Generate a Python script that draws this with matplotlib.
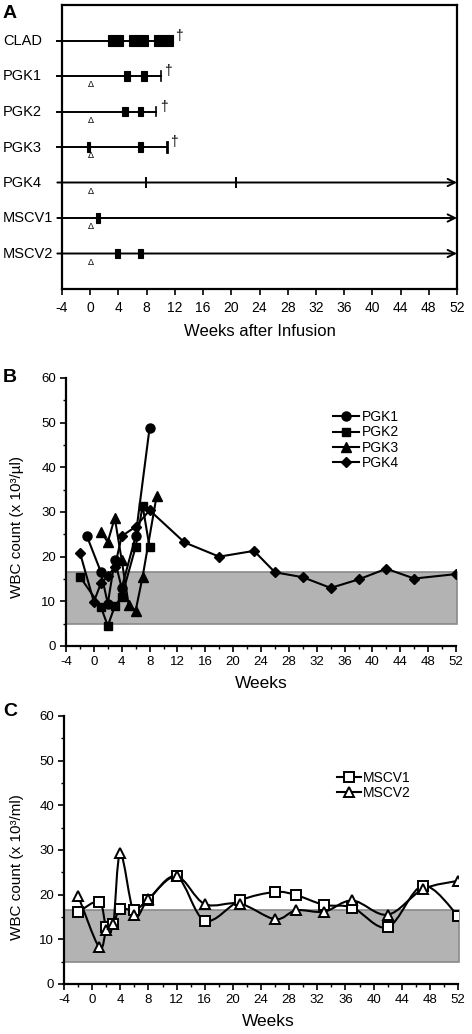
import matplotlib
matplotlib.use("Agg")
import matplotlib.pyplot as plt
import matplotlib.ticker as mticker
from matplotlib.patches import Rectangle, PathPatch
from matplotlib.path import Path

plt.rcParams.update({
    "font.family": ["Liberation Sans", "DejaVu Sans"],
    "axes.unicode_minus": False,
})

# -- Panel A: treatment timelines --
ROWS = ["CLAD", "PGK1", "PGK2", "PGK3", "PGK4", "MSCV1", "MSCV2"]
ROW_START = -4.66
ROW_END = [11.7, 10.03, 9.37, 10.84, 52, 52, 52]
ROW_ARROW = [False, False, False, False, True, True, True]
ROW_DAGGER = [12.6, 11.07, 10.46, 11.9, None, None, None]
ROW_TRIANGLE = [None, 0.07, 0.07, 0.07, 0.07, 0.07, 0.07]
ROW_BOXES = [
    [(2.47, 4.69), (5.45, 8.23), (9.1, 11.7)],
    [(4.79, 5.64), (7.2, 8.1)],
    [(4.5, 5.36), (6.73, 7.53)],
    [(-0.41, 0.0), (6.73, 7.53)],
    [],
    [(0.77, 1.39)],
    [(3.47, 4.27), (6.82, 7.53)],
]
ROW_TICKS = [[], [], [], [], [7.86, 20.6], [], []]

# -- Panel B: PGK WBC counts --
PGK1_W = [-1, 1, 2, 3, 4, 6, 8]
PGK1_V = [24.6, 16.6, 9.5, 19.2, 13.0, 24.6, 48.8]
PGK2_W = [-2, 1, 2, 3, 4, 6, 7, 8]
PGK2_V = [15.5, 8.8, 4.5, 8.9, 11.0, 22.2, 31.4, 22.1]
PGK3_W = [1, 2, 3, 4, 5, 6, 7, 9]
PGK3_V = [25.6, 23.3, 28.7, 19.2, 9.2, 7.9, 15.5, 33.5]
PGK4_W = [-2, 0, 1, 2, 3, 4, 6, 8, 13, 18, 23, 26, 30, 34, 38, 42, 46, 52]
PGK4_V = [20.9, 9.9, 14.0, 15.6, 17.7, 24.6, 26.7, 30.4, 23.2, 20.0, 21.3,
          16.5, 15.4, 13.0, 14.9, 17.3, 15.1, 16.1]

# -- Panel C: MSCV WBC counts --
MSCV_W = [-2, 1, 2, 3, 4, 6, 8, 12, 16, 21, 26, 29, 33, 37, 42, 47, 52]
MSCV1_V = [16.1, 18.4, 12.7, 13.4, 16.9, 16.5, 18.9, 24.1, 14.2, 18.7, 20.6,
           19.9, 17.7, 17.1, 12.7, 22.0, 15.3]
MSCV2_V = [19.8, 8.2, 12.0, 13.4, 29.3, 15.5, 19.0, 24.1, 17.9, 18.0, 14.5,
           16.5, 16.2, 18.7, 15.5, 21.2, 23.1]

NORMAL_LO, NORMAL_HI = 5, 16.5
XTICKS = list(range(-4, 53, 4))

W, H = 472, 1034
fig = plt.figure(figsize=(W / 100, H / 100), dpi=100)


def px(x0, y0, x1, y1):
    return [x0 / W, 1 - y1 / H, (x1 - x0) / W, (y1 - y0) / H]


def smooth_path(xs, ys):
    # Excel-style smooth line: Catmull-Rom as cubic Bezier segments
    pts = list(zip(xs, ys))
    verts = [pts[0]]
    codes = [Path.MOVETO]
    n = len(pts)
    for i in range(n - 1):
        p0 = pts[i - 1] if i > 0 else pts[i]
        p1, p2 = pts[i], pts[i + 1]
        p3 = pts[i + 2] if i + 2 < n else pts[i + 1]
        c1 = (p1[0] + (p2[0] - p0[0]) / 6, p1[1] + (p2[1] - p0[1]) / 6)
        c2 = (p2[0] - (p3[0] - p1[0]) / 6, p2[1] - (p3[1] - p1[1]) / 6)
        verts += [c1, c2, p2]
        codes += [Path.CURVE4] * 3
    return Path(verts, codes)


# ---------------- Panel A ----------------
axA = fig.add_axes(px(62, 5, 457, 289))
axA.set_xlim(-4, 52)
axA.set_ylim(7, -1)
axA.set_yticks([])
axA.set_xticks(XTICKS)
axA.tick_params(axis="x", direction="out", length=4, width=1.2, pad=5, labelsize=10)
for s in axA.spines.values():
    s.set_linewidth(1.6)

for i, name in enumerate(ROWS):
    fig.text(3 / W, 1 - (41 + i * 35.5) / H, name, fontsize=10.5, ha="left", va="center")
    if ROW_ARROW[i]:
        axA.annotate("", xy=(ROW_END[i], i), xytext=(ROW_START, i),
                     arrowprops=dict(arrowstyle="->", lw=1.4, color="black",
                                     shrinkA=0, shrinkB=0, mutation_scale=13),
                     annotation_clip=False)
    else:
        axA.plot([ROW_START, ROW_END[i]], [i, i], color="black", lw=1.4, clip_on=False)
        axA.plot([ROW_END[i]] * 2, [i - 0.14, i + 0.14], color="black",
                 lw=2.0 if i == 3 else 1.2)
    bh = 0.32 if i == 0 else 0.26
    for a, b in ROW_BOXES[i]:
        axA.add_patch(Rectangle((a, i - bh / 2), b - a, bh, facecolor="black",
                                edgecolor="black", lw=0.8, zorder=3))
    for t in ROW_TICKS[i]:
        axA.plot([t, t], [i - 0.14, i + 0.14], color="black", lw=1.4)
    if ROW_DAGGER[i] is not None:
        axA.text(ROW_DAGGER[i], i - 0.14, "\u2020", fontsize=10, ha="center", va="center")
    if ROW_TRIANGLE[i] is not None:
        axA.text(ROW_TRIANGLE[i], i + 0.25, "\u0394", fontsize=6.5, ha="center", va="center")

fig.text(260 / W, 1 - 331 / H, "Weeks after Infusion", fontsize=12, ha="center", va="center")
fig.text(3 / W, 1 - 14 / H, "A", fontsize=14, fontweight="bold", ha="left", va="center")


def style_wbc(ax):
    ax.set_xlim(-4, 52)
    ax.set_ylim(0, 60)
    ax.set_xticks(XTICKS)
    ax.xaxis.set_minor_locator(mticker.MultipleLocator(2))
    ax.yaxis.set_major_locator(mticker.MultipleLocator(10))
    ax.yaxis.set_minor_locator(mticker.MultipleLocator(5))
    for side in ("top", "right"):
        ax.spines[side].set_visible(False)
    for side in ("left", "bottom"):
        ax.spines[side].set_linewidth(1.6)
    ax.tick_params(which="major", direction="out", length=4, width=1.2, labelsize=9.5, pad=3)
    ax.tick_params(which="minor", direction="out", length=2.5, width=1.0)
    ax.add_patch(Rectangle((-4, NORMAL_LO), 56.2, NORMAL_HI - NORMAL_LO,
                           facecolor="#b3b3b3", edgecolor="#8a8a8a", lw=1.2,
                           zorder=1, clip_on=False))


# ---------------- Panel B ----------------
axB = fig.add_axes(px(66, 378, 456, 646))
style_wbc(axB)
mk = dict(color="black", lw=1.5, markeredgecolor="black", zorder=3)
axB.plot(PGK1_W, PGK1_V, marker="o", ms=6.5, label="PGK1", **mk)
axB.plot(PGK2_W, PGK2_V, marker="s", ms=6, label="PGK2", **mk)
axB.plot(PGK3_W, PGK3_V, marker="^", ms=6.5, label="PGK3", **mk)
axB.plot(PGK4_W, PGK4_V, marker="D", ms=5, label="PGK4", **mk)
axB.legend(loc="upper left", bbox_to_anchor=(333 / W, 1 - 410 / H),
           bbox_transform=fig.transFigure, frameon=False, fontsize=10,
           handlelength=1.9, handletextpad=0.2, labelspacing=0.1,
           borderpad=0, borderaxespad=0, numpoints=1)
fig.text(17 / W, 1 - 527 / H, "WBC count (x 10\u00b3/\u00b5l)", fontsize=11,
         rotation=90, ha="center", va="center")
fig.text(261 / W, 1 - 684 / H, "Weeks", fontsize=12.5, ha="center", va="center")
fig.text(3 / W, 1 - 378 / H, "B", fontsize=14, fontweight="bold", ha="left", va="center")

# ---------------- Panel C ----------------
axC = fig.add_axes(px(64, 716, 458, 984))
style_wbc(axC)
for vals, m, lab in ((MSCV1_V, "s", "MSCV1"), (MSCV2_V, "^", "MSCV2")):
    axC.add_patch(PathPatch(smooth_path(MSCV_W, vals), facecolor="none",
                            edgecolor="black", lw=1.5, zorder=3))
    axC.plot(MSCV_W, vals, ls="none", marker=m, ms=7.5 if m == "s" else 7,
             markerfacecolor="white", markeredgecolor="black", mew=1.4, zorder=4)
    axC.plot([], [], color="black", lw=1.5, marker=m, ms=7.5 if m == "s" else 7,
             markerfacecolor="white", markeredgecolor="black", mew=1.4, label=lab)
axC.legend(loc="upper left", bbox_to_anchor=(337 / W, 1 - 771 / H),
           bbox_transform=fig.transFigure, frameon=False, fontsize=10,
           handlelength=1.7, handletextpad=0.15, labelspacing=0.05,
           borderpad=0, borderaxespad=0, numpoints=1)
fig.text(17 / W, 1 - 867 / H, "WBC count (x 10\u00b3/ml)", fontsize=11,
         rotation=90, ha="center", va="center")
fig.text(268 / W, 1 - 1022 / H, "Weeks", fontsize=12.5, ha="center", va="center")
fig.text(3 / W, 1 - 711 / H, "C", fontsize=14, fontweight="bold", ha="left", va="center")

fig.savefig("out.png", dpi=100, facecolor="white")
